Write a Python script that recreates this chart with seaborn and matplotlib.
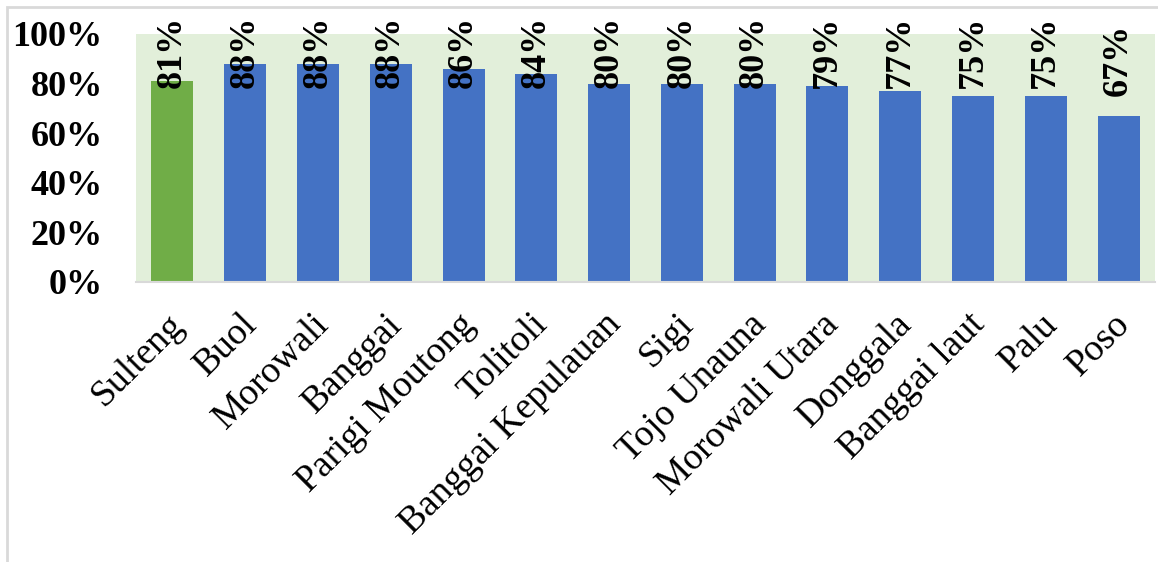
import matplotlib
matplotlib.use("Agg")
import matplotlib.pyplot as plt
import matplotlib.transforms as mtransforms
from matplotlib.patches import Rectangle
import seaborn as sns
import pandas as pd

# data
regions = ["Sulteng", "Buol", "Morowali", "Banggai", "Parigi Moutong", "Tolitoli",
           "Banggai Kepulauan", "Sigi", "Tojo Unauna", "Morowali Utara", "Donggala",
           "Banggai laut", "Palu", "Poso"]
pct = [81, 88, 88, 88, 86, 84, 80, 80, 80, 79, 77, 75, 75, 67]
yticks = [0, 20, 40, 60, 80, 100]

green = "#70AD47"
blue = "#4472C4"
bar_colors = [green] + [blue] * (len(regions) - 1)

sns.set_style("white")
plt.rcParams["font.family"] = ["Liberation Serif", "DejaVu Serif"]
plt.rcParams["text.color"] = "black"
plt.rcParams["xtick.color"] = "black"
plt.rcParams["ytick.color"] = "black"

df = pd.DataFrame({"region": regions, "pct": pct})

fig = plt.figure(figsize=(11.58, 5.62), dpi=100)
ax = fig.add_axes([136 / 1158, 1 - 282 / 562, 1019 / 1158, 248 / 562])

sns.barplot(data=df, x="region", y="pct", hue="region", palette=bar_colors,
            legend=False, width=0.577, saturation=1, ax=ax, edgecolor="none")

ax.set_facecolor("#E2EFDA")
ax.set_xlim(-0.5, len(regions) - 0.5)
ax.set_ylim(0, 100)
ax.set_yticks(yticks)
ax.set_yticklabels([f"{t}%" for t in yticks], fontsize=26, fontweight="bold")
ax.tick_params(axis="y", length=0, pad=24)
ax.tick_params(axis="x", length=0, pad=8)
ax.set_xticks(range(len(regions)))
ax.set_xticklabels(regions, fontsize=27, rotation=45, ha="right",
                   rotation_mode="anchor")
# nudge x labels down/left like the original
shift = mtransforms.ScaledTranslation(-6 / 100, -14 / 100, fig.dpi_scale_trans)
for lab in ax.get_xticklabels():
    lab.set_transform(lab.get_transform() + shift)
ax.set_xlabel("")
ax.set_ylabel("")

for side in ["top", "left", "right"]:
    ax.spines[side].set_visible(False)
ax.spines["bottom"].set_color("#D9D9D9")
ax.spines["bottom"].set_linewidth(1.5)

# data labels, pushed down when they would run off the top
for i, v in enumerate(pct):
    ty = min(v + 37.0, 107.5)
    ax.text(i, ty, f"{v}%", rotation=90, ha="center", va="top",
            fontsize=26, fontweight="bold", clip_on=False)

# chart-area border (left and top visible)
fig.patches.append(Rectangle((7 / 1158, -0.1), 1.2, 1 - 7 / 562 + 0.1,
                             transform=fig.transFigure, fill=False,
                             edgecolor="#D9D9D9", linewidth=2))

fig.savefig("out.png", dpi=100)
